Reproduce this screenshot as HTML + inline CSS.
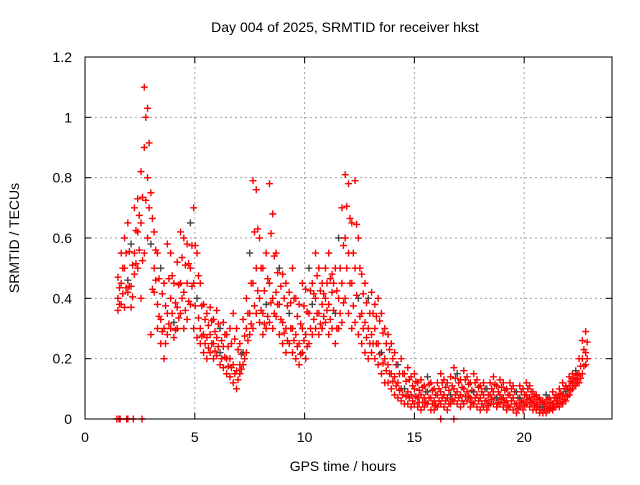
<!DOCTYPE html>
<html><head><meta charset="utf-8"><style>
body{margin:0;background:#fff}
svg text{font-family:"Liberation Sans",sans-serif;font-size:14px;fill:#000}
</style></head><body>
<svg id="chart" width="640" height="480" viewBox="0 0 640 480" xmlns="http://www.w3.org/2000/svg">
<rect width="640" height="480" fill="#fff"/>
<text x="345" y="32" text-anchor="middle">Day 004 of 2025, SRMTID for receiver hkst</text>
<text transform="translate(19,238) rotate(-90)" text-anchor="middle">SRMTID / TECUs</text>
<text x="343" y="471" text-anchor="middle">GPS time / hours</text>
<g id="grid"></g><g id="marks"></g>
<rect x="85" y="57" width="527" height="362" fill="none" stroke="#000" stroke-width="1"/>
</svg>
<script>
const hours=[1.5,1.65,1.8,1.95,2.1,2.25,2.4,2.55,2.7,2.85,3.0,3.15,3.3,3.45,3.6,3.75,3.9,4.05,4.2,4.35,4.5,4.65,4.8,4.95,5.1,5.25,5.4,5.55,5.7,5.85,6.0,6.15,6.3,6.45,6.6,6.75,6.9,7.05,7.2,7.35,7.5,7.65,7.8,7.95,8.1,8.25,8.4,8.55,8.7,8.85,9.0,9.15,9.3,9.45,9.6,9.75,9.9,10.05,10.2,10.35,10.5,10.65,10.8,10.95,11.1,11.25,11.4,11.55,11.7,11.85,12.0,12.15,12.3,12.45,12.6,12.75,12.9,13.05,13.2,13.35,13.5,13.65,13.8,13.95,14.1,14.25,14.4,14.55,14.7,14.85,15.0,15.15,15.3,15.45,15.6,15.75,15.9,16.05,16.2,16.35,16.5,16.65,16.8,16.95,17.1,17.25,17.4,17.55,17.7,17.85,18.0,18.15,18.3,18.45,18.6,18.75,18.9,19.05,19.2,19.35,19.5,19.65,19.8,19.95,20.1,20.25,20.4,20.55,20.7,20.85,21.0,21.15,21.3,21.45,21.6,21.75,21.9,22.05,22.2,22.35,22.5,22.65,22.8];
const seriesA=[.47,.55,.60,.65,.58,.70,.73,.82,1.10,1.03,.75,.62,.55,.50,.45,.58,.55,.45,.52,.62,.60,.58,.65,.70,.55,.45,.38,.35,.37,.33,.36,.30,.32,.28,.30,.35,.30,.25,.33,.40,.55,.79,.76,.60,.50,.55,.78,.68,.55,.50,.48,.45,.42,.50,.40,.38,.45,.43,.50,.45,.55,.50,.45,.50,.55,.48,.50,.60,.70,.81,.78,.65,.79,.60,.48,.45,.40,.42,.38,.40,.35,.30,.28,.25,.22,.18,.20,.15,.17,.14,.15,.12,.13,.11,.14,.12,.10,.12,.15,.13,.12,.14,.17,.15,.13,.16,.14,.12,.15,.13,.11,.12,.10,.12,.14,.11,.13,.12,.10,.12,.11,.09,.11,.10,.12,.11,.09,.08,.07,.06,.08,.07,.09,.08,.10,.12,.11,.14,.15,.16,.20,.26,.29];
const seriesB=[.40,.45,.50,.46,.44,.55,.62,.65,.90,.80,.58,.50,.38,.33,.30,.35,.40,.32,.37,.45,.42,.45,.50,.45,.40,.30,.28,.27,.28,.25,.27,.22,.24,.20,.20,.18,.16,.18,.22,.30,.35,.45,.50,.40,.35,.38,.45,.40,.42,.38,.32,.30,.35,.30,.28,.25,.30,.28,.35,.38,.40,.35,.38,.40,.38,.42,.35,.40,.45,.60,.55,.45,.50,.40,.35,.32,.30,.28,.30,.25,.22,.20,.18,.15,.14,.12,.10,.10,.09,.08,.10,.07,.08,.07,.09,.07,.06,.08,.09,.08,.07,.08,.10,.09,.08,.10,.09,.07,.09,.08,.07,.08,.06,.08,.09,.07,.08,.07,.06,.08,.07,.05,.07,.06,.08,.07,.06,.05,.04,.04,.05,.04,.05,.06,.07,.08,.09,.11,.12,.13,.15,.20,.22];
const seriesC=[.36,.38,.37,.42,.37,.48,.50,.40,.55,.60,.28,.42,.30,.25,.20,.28,.30,.27,.30,.35,.30,.33,.38,.30,.27,.25,.22,.20,.22,.20,.21,.18,.17,.15,.14,.12,.10,.15,.18,.22,.28,.30,.35,.32,.28,.30,.32,.30,.34,.28,.25,.22,.25,.22,.20,.18,.22,.20,.25,.28,.30,.28,.30,.32,.28,.30,.25,.30,.32,.40,.35,.30,.32,.28,.25,.22,.20,.22,.20,.18,.15,.12,.12,.10,.08,.07,.06,.05,.05,.04,.05,.04,.03,.04,.05,.03,.03,.04,.05,.04,.03,.05,.06,.05,.04,.05,.06,.04,.05,.04,.03,.04,.03,.05,.05,.04,.05,.04,.03,.04,.03,.02,.04,.03,.05,.04,.03,.03,.02,.02,.02,.03,.03,.04,.04,.05,.06,.08,.10,.11,.12,.15,.18];
const zeroHours=[1.45,1.55,1.6,1.9,1.95,2.2,2.6,16.2,16.8];
const xTicks=[0,5,10,15,20];
const yTicks=[0,0.2,0.4,0.6,0.8,1,1.2];
const yTickLabels=["0","0.2","0.4","0.6","0.8","1","1.2"];
const X0=85,X1=612,Y0=419,Y1=57,XMAX=24,YMAX=1.2;
const xs=h=>X0+(X1-X0)*h/XMAX, ys=v=>Y0-(Y0-Y1)*v/YMAX;
const NS="http://www.w3.org/2000/svg";
const grid=document.getElementById('grid'),marks=document.getElementById('marks');
function mk(tag,attrs,parent){const e=document.createElementNS(NS,tag);for(const k in attrs)e.setAttribute(k,attrs[k]);parent.appendChild(e);return e;}
xTicks.forEach(t=>{const x=xs(t);
 if(t>0){const g=mk('line',{x1:x,y1:Y0,x2:x,y2:Y1,stroke:'#a0a0a0','stroke-dasharray':'2,3'},grid);
 
 }
 mk('line',{x1:x,y1:Y0,x2:x,y2:Y0-6,stroke:'#000'},grid);mk('line',{x1:x,y1:Y1,x2:x,y2:Y1+6,stroke:'#000'},grid);
 const tx=mk('text',{x:x,y:Y0+23,'text-anchor':'middle'},grid);tx.textContent=t;
 
 });
yTicks.forEach((t,i)=>{const y=ys(t);
 if(t>0&&t<YMAX){const g=mk('line',{x1:X0,y1:y,x2:X1,y2:y,stroke:'#a0a0a0','stroke-dasharray':'2,3'},grid);
 
 }
 mk('line',{x1:X0,y1:y,x2:X0+6,y2:y,stroke:'#000'},grid);mk('line',{x1:X1,y1:y,x2:X1-6,y2:y,stroke:'#000'},grid);
 const tx=mk('text',{x:X0-13,y:y+5,'text-anchor':'end'},grid);tx.textContent=yTickLabels[i];
 
 });
function plus(h,v,col){const x=xs(h),y=ys(v);
 const p=mk('path',{d:`M${x-3.5},${y}h7M${x},${y-3.5}v7`,stroke:col,'stroke-width':1.4,fill:'none'},marks);
 
 }
hours.forEach((h,i)=>{plus(h,seriesA[i],i%9==4?'#444':'#f00');plus(h,seriesB[i],i%7==3?'#444':'#f00');plus(h,seriesC[i],'#f00');
 plus(h+0.07,(seriesA[i]+seriesB[i])/2,'#f00');plus(h+0.07,(seriesB[i]+seriesC[i])/2,'#f00');});
zeroHours.forEach(h=>plus(h,0,'#f00'));
</script>
</body></html>
